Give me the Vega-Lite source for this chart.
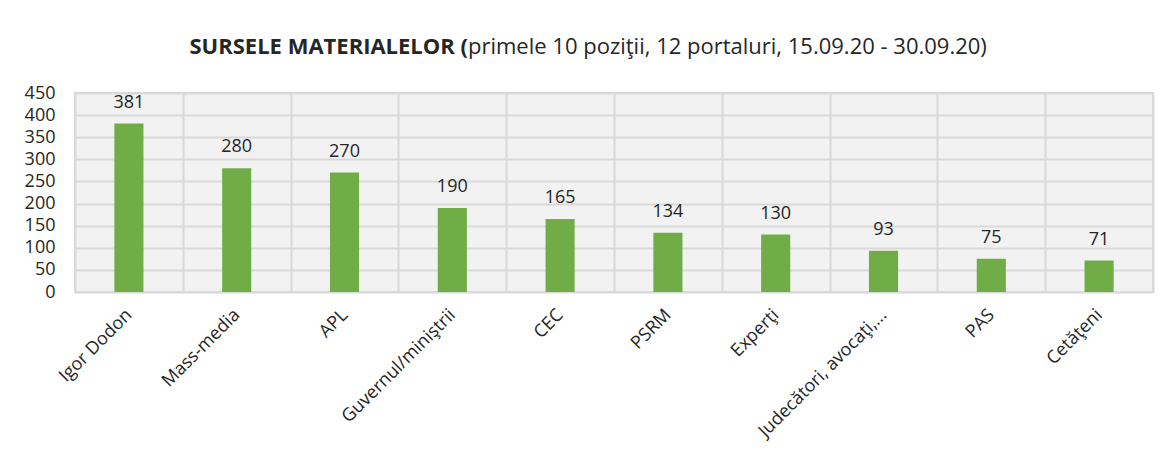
{
  "$schema": "https://vega.github.io/schema/vega-lite/v6.json",
  "width": 1078,
  "height": 199,
  "autosize": {"type": "none"},
  "padding": {"left": 75, "top": 93, "right": 18, "bottom": 169},
  "background": "white",
  "title": {
    "text": "SURSELE MATERIALELOR (",
    "subtitle": "primele 10 poziţii, 12 portaluri, 15.09.20 - 30.09.20)",
    "anchor": "start",
    "frame": "group",
    "font": "Open Sans",
    "subtitleFont": "Open Sans",
    "fontSize": 22,
    "subtitleFontSize": 22,
    "fontWeight": "bold",
    "subtitleFontWeight": "normal",
    "color": "#262626",
    "subtitleColor": "#262626",
    "subtitlePadding": -22,
    "offset": 25,
    "encode": {
      "title": {"update": {"align": {"value": "right"}, "dx": {"value": 393}}},
      "subtitle": {"update": {"align": {"value": "left"}, "dx": {"value": 393}}}
    }
  },
  "data": {
    "values": [
      {"source": "Igor Dodon", "count": 381},
      {"source": "Mass-media", "count": 280},
      {"source": "APL", "count": 270},
      {"source": "Guvernul/miniştrii", "count": 190},
      {"source": "CEC", "count": 165},
      {"source": "PSRM", "count": 134},
      {"source": "Experţi", "count": 130},
      {"source": "Judecători, avocaţi,...", "count": 93},
      {"source": "PAS", "count": 75},
      {"source": "Cetăţeni", "count": 71}
    ]
  },
  "encoding": {
    "x": {
      "field": "source",
      "type": "nominal",
      "sort": null,
      "scale": {"paddingInner": 0, "paddingOuter": 0},
      "axis": {
        "title": null,
        "labelAngle": -45,
        "labelAlign": "right",
        "labelBaseline": "middle",
        "labelFont": "Open Sans",
        "labelFontSize": 18,
        "labelColor": "#262626",
        "labelPadding": 20,
        "labelLimit": 0,
        "ticks": false,
        "domain": false,
        "grid": true,
        "gridColor": "#D9D9D9",
        "gridWidth": 2,
        "tickBand": "extent"
      }
    },
    "y": {
      "field": "count",
      "type": "quantitative",
      "scale": {"domain": [0, 450], "nice": false},
      "axis": {
        "title": null,
        "values": [0, 50, 100, 150, 200, 250, 300, 350, 400, 450],
        "labelFont": "Open Sans",
        "labelFontSize": 18,
        "labelColor": "#262626",
        "labelPadding": 20,
        "ticks": false,
        "domain": false,
        "grid": true,
        "gridColor": "#D9D9D9",
        "gridWidth": 2
      }
    }
  },
  "layer": [
    {"mark": {"type": "bar", "color": "#70AD47", "width": {"band": 0.27}}},
    {
      "mark": {"type": "text", "baseline": "alphabetic", "dy": -16, "font": "Open Sans", "fontSize": 18, "color": "#262626"},
      "encoding": {"text": {"field": "count", "type": "quantitative"}}
    }
  ],
  "config": {"view": {"fill": "#F2F2F2", "stroke": "#D9D9D9", "strokeWidth": 2}}
}
